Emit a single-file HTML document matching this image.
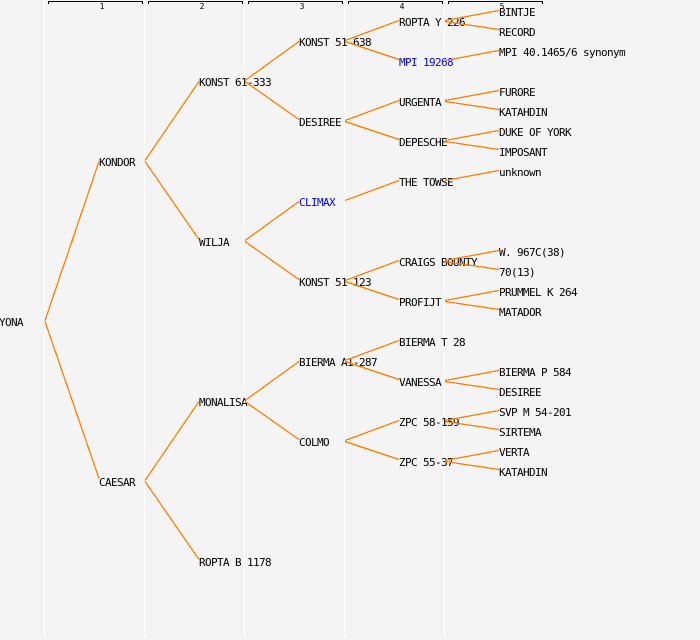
<!DOCTYPE html>
<html>
<head>
<meta charset="utf-8">
<style>
html,body{margin:0;padding:0;background:#f4f4f4;}
svg{display:block;}
text{font-family:"DejaVu Sans Mono","Liberation Mono",monospace;font-size:11px;letter-spacing:-0.62px;fill:#000;}
text.b{fill:#0000ff;}
text.h{font-size:8px;letter-spacing:0;text-anchor:middle;}
</style>
</head>
<body>
<svg width="700" height="640" viewBox="0 0 700 640" xmlns="http://www.w3.org/2000/svg">
<rect width="700" height="640" fill="#f4f4f4"/>
<g fill="#ffffff" shape-rendering="crispEdges">
<rect x="44" y="0" width="1" height="638"/>
<rect x="144" y="0" width="1" height="638"/>
<rect x="244" y="0" width="1" height="638"/>
<rect x="344" y="0" width="1" height="638"/>
<rect x="444" y="0" width="1" height="638"/>
</g>
<g fill="none" stroke="#000" stroke-width="1" shape-rendering="crispEdges">
<path d="M48.5 4V1.5H142.5V4"/>
<path d="M148.5 4V1.5H242.5V4"/>
<path d="M248.5 4V1.5H342.5V4"/>
<path d="M348.5 4V1.5H442.5V4"/>
<path d="M448.5 4V1.5H542.5V4"/>
</g>
<text class="h" x="102" y="9">1</text>
<text class="h" x="202" y="9">2</text>
<text class="h" x="302" y="9">3</text>
<text class="h" x="402" y="9">4</text>
<text class="h" x="502" y="9">5</text>
<text x="-1" y="326">YONA</text>
<text x="99" y="166">KONDOR</text>
<text x="99" y="486">CAESAR</text>
<text x="199" y="86">KONST 61-333</text>
<text x="199" y="246">WILJA</text>
<text x="199" y="406">MONALISA</text>
<text x="199" y="566">ROPTA B 1178</text>
<text x="299" y="46">KONST 51-638</text>
<text x="299" y="126">DESIREE</text>
<text class="b" x="299" y="206">CLIMAX</text>
<text x="299" y="286">KONST 51-123</text>
<text x="299" y="366">BIERMA A1-287</text>
<text x="299" y="446">COLMO</text>
<text x="399" y="26">ROPTA Y 226</text>
<text class="b" x="399" y="66">MPI 19268</text>
<text x="399" y="106">URGENTA</text>
<text x="399" y="146">DEPESCHE</text>
<text x="399" y="186">THE TOWSE</text>
<text x="399" y="266">CRAIGS BOUNTY</text>
<text x="399" y="306">PROFIJT</text>
<text x="399" y="346">BIERMA T 28</text>
<text x="399" y="386">VANESSA</text>
<text x="399" y="426">ZPC 58-159</text>
<text x="399" y="466">ZPC 55-37</text>
<text x="499" y="16">BINTJE</text>
<text x="499" y="36">RECORD</text>
<text x="499" y="56">MPI 40.1465/6 synonym</text>
<text x="499" y="96">FURORE</text>
<text x="499" y="116">KATAHDIN</text>
<text x="499" y="136">DUKE OF YORK</text>
<text x="499" y="156">IMPOSANT</text>
<text x="499" y="176">unknown</text>
<text x="499" y="256">W. 967C(38)</text>
<text x="499" y="276">70(13)</text>
<text x="499" y="296">PRUMMEL K 264</text>
<text x="499" y="316">MATADOR</text>
<text x="499" y="376">BIERMA P 584</text>
<text x="499" y="396">DESIREE</text>
<text x="499" y="416">SVP M 54-201</text>
<text x="499" y="436">SIRTEMA</text>
<text x="499" y="456">VERTA</text>
<text x="499" y="476">KATAHDIN</text>
<g fill="none" stroke="#ff8000" stroke-width="1.3" shape-rendering="crispEdges">
<path d="M99 161.5L45 320.5M45 321.5L99 478.5"/>
<path d="M199 81.5L145 160.5M145 161.5L199 239.5"/>
<path d="M199 401.5L145 480.5M145 481.5L199 559.5"/>
<path d="M299 41.5L245 80.5M245 81.5L299 119.5"/>
<path d="M299 201.5L245 240.5M245 241.5L299 279.5"/>
<path d="M299 361.5L245 400.5M245 401.5L299 439.5"/>
<path d="M399 20.5L345 40.5M345 41.5L399 59.5"/>
<path d="M399 100.5L345 120.5M345 121.5L399 139.5"/>
<path d="M399 180.5L345 200.5"/>
<path d="M399 260.5L345 280.5M345 281.5L399 299.5"/>
<path d="M399 340.5L345 360.5M345 361.5L399 379.5"/>
<path d="M399 420.5L345 440.5M345 441.5L399 459.5"/>
<path d="M499 10.5L445 20.5M445 21.5L499 29.5"/>
<path d="M499 50.5L445 60.5"/>
<path d="M499 90.5L445 100.5M445 101.5L499 109.5"/>
<path d="M499 130.5L445 140.5M445 141.5L499 149.5"/>
<path d="M499 170.5L445 180.5"/>
<path d="M499 250.5L445 260.5M445 261.5L499 269.5"/>
<path d="M499 290.5L445 300.5M445 301.5L499 309.5"/>
<path d="M499 370.5L445 380.5M445 381.5L499 389.5"/>
<path d="M499 410.5L445 420.5M445 421.5L499 429.5"/>
<path d="M499 450.5L445 460.5M445 461.5L499 469.5"/>
</g>
</svg>
</body>
</html>
